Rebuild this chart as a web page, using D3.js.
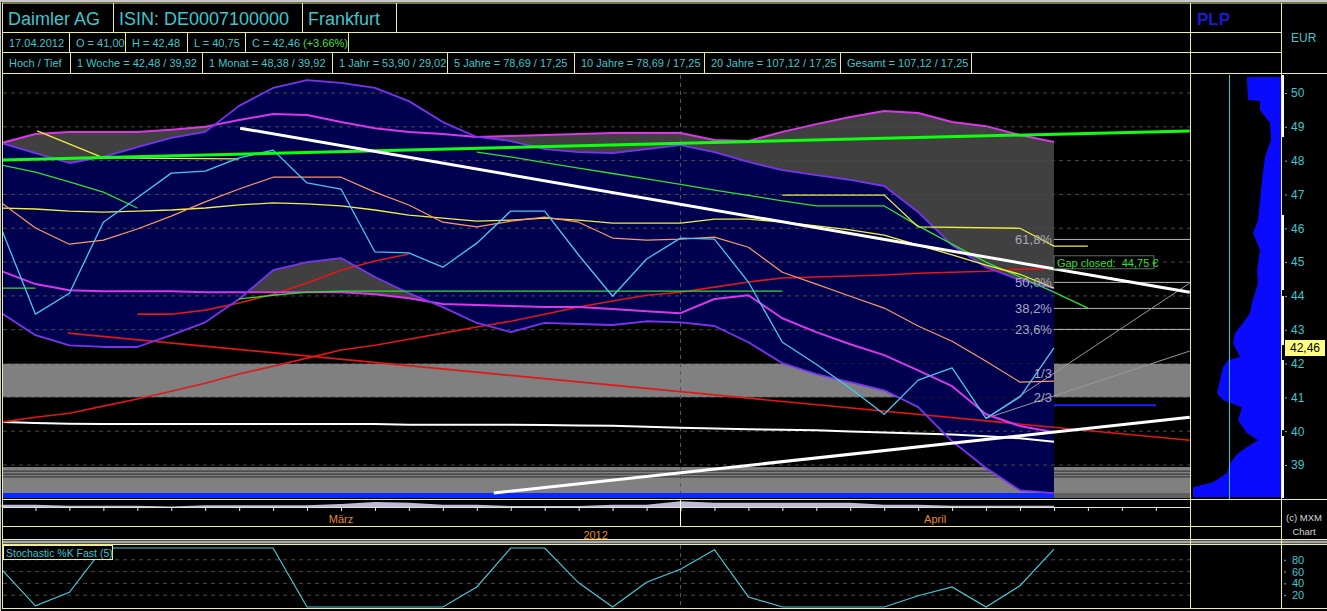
<!DOCTYPE html>
<html><head><meta charset="utf-8">
<script src="https://cdn.jsdelivr.net/npm/d3@7"></script>
<style>
html,body{margin:0;padding:0;background:#000;}
svg{display:block;}
text{font-family:"Liberation Sans",Arial,sans-serif;}
</style></head><body>
<svg id="c" width="1327" height="611"></svg>
<script>
// ---------------- DATA ----------------
const dayLabels = ["05.03","06.03","07.03","08.03","09.03","12.03","13.03","14.03","15.03","16.03","19.03","20.03","21.03","22.03","23.03","26.03","27.03","28.03","29.03","30.03","02.04","03.04","04.04","05.04","06.04","09.04","10.04","11.04","12.04","13.04","16.04","17.04"];
const monthNames = ["März","April"];
const monthStartIdx = [0, 20];
const yearLabel = "2012";

const closePx = [45.98,43.46,44.08,46.18,46.90,47.63,47.69,48.08,48.31,47.34,47.16,45.30,45.27,44.85,45.56,46.51,46.51,45.21,43.99,45.09,45.71,45.68,44.41,42.63,41.98,41.27,40.50,41.51,41.87,40.38,41.01,42.46];
const bbUpper = [48.52,48.22,47.93,48.11,48.40,48.67,48.85,49.62,50.15,50.38,50.30,50.15,49.76,49.14,48.70,48.58,48.34,48.25,48.22,48.34,48.46,48.25,47.96,47.72,47.57,47.43,47.25,46.48,45.50,44.85,44.47,44.23];
const bbLower = [43.49,42.84,42.54,42.49,42.49,42.84,43.22,43.91,44.76,45.00,45.12,44.56,44.08,43.67,43.20,42.93,43.20,43.17,43.14,43.25,43.22,43.11,42.63,42.01,41.69,41.45,41.21,40.71,39.70,38.91,38.25,38.17];
const envUpper = [48.52,48.79,48.85,48.85,48.85,48.91,49.00,49.20,49.38,49.35,49.14,48.96,48.85,48.79,48.70,48.73,48.76,48.79,48.82,48.82,48.82,48.61,48.58,48.85,49.08,49.29,49.47,49.41,49.14,49.02,48.76,48.55];
const envLower = [44.73,44.35,44.17,44.14,44.14,44.14,44.11,44.11,44.11,44.11,44.11,44.05,43.93,43.76,43.73,43.70,43.67,43.67,43.61,43.55,43.49,43.91,44.02,43.34,42.93,42.57,42.25,41.80,41.33,40.50,40.15,39.97];
const maOrange = [46.75,46.01,45.53,45.65,45.98,46.36,46.78,47.16,47.51,47.51,47.51,47.07,46.69,46.18,46.04,46.21,46.33,46.18,45.71,45.65,45.68,45.74,45.44,44.70,44.35,43.99,43.64,43.11,42.66,42.07,41.45,41.48];
const maYellow = [46.60,46.57,46.51,46.48,46.51,46.54,46.60,46.69,46.75,46.72,46.66,46.54,46.39,46.30,46.21,46.24,46.30,46.24,46.15,46.15,46.15,46.27,46.27,46.18,46.07,45.95,45.80,45.50,45.21,44.91,44.64,44.23];
const maRed = [40.27,40.41,40.53,40.74,40.95,41.18,41.42,41.69,41.92,42.16,42.40,42.54,42.72,42.90,43.08,43.25,43.46,43.67,43.85,44.02,44.11,44.26,44.41,44.53,44.56,44.59,44.62,44.67,44.70,44.73,44.79,44.82];
const maWhite = [40.27,40.24,40.22,40.21,40.21,40.21,40.21,40.21,40.21,40.21,40.21,40.21,40.19,40.19,40.19,40.19,40.18,40.17,40.16,40.13,40.10,40.08,40.06,40.04,40.03,39.99,39.96,39.93,39.90,39.85,39.79,39.69];
const redShortStart = 4;
const redShort = [43.46,43.46,43.58,43.79,44.05,44.38,44.76,45.03,45.24];
const greenAStart = 0;
const greenA = [47.87,47.66,47.37,47.07,46.60];
const greenBStart = 14;
const greenB = [48.25,48.11,47.94,47.78,47.62,47.46,47.30,47.13,46.97,46.81,46.66,46.66,46.66,46.07,45.53,45.00,44.56,44.11,43.64];
const greenFlatA = [[0,44.23],[1,44.23]];
const greenFlatB = [[7,43.91],[8,44.02],[9,44.11],[10,44.14],[23,44.14]];
const yellowTL = [[1.05,48.88],[3,48.08],[7,48.05]];
const yellowStep = [[23,46.98],[26,46.98],[27,46.04],[30,46.00],[31,45.47],[32,45.47]];
const stochK = [64,2,25,100,100,100,100,100,100,0,0,0,0,0,34,100,100,41,0,42,64,97,17,0,0,0,0,19,34,0,36,98];
const volume = [2.3,2.3,1.3,1.3,1.3,0.5,1.7,1.7,1.7,1.7,3,5,4.3,2.3,2.3,1,1,1,2.3,2.3,5.7,4.3,4.3,4.3,4.3,4.3,2.3,2.3,1.3,1.3,1.3,1.3];

// trend lines [i1, price1, i2, price2]
const trendGreen = [0,48.02,35,48.88];
const trendWhiteUp = [7.03,48.96,35,44.11];
const trendWhiteLow = [14.5,38.17,35,40.41];
const trendRed = [1.96,42.90,35,39.73];
const fanLines = [[29,40.38,35,44.38],[29,40.38,35,42.37]];
const lowLine = [31,40.77,34,40.77];

const fibLevels = [45.67,44.40,43.63,43.01];
const fibLabels = ["61,8%","50,0%","38,2%","23,6%"];
const thirdLevels = [41.72,41.01];
const thirdLabels = ["1/3","2/3"];
const zoneBands = [[41,42],[38.17,38.94]];
const zoneLines = [38.82,38.73,38.65];
const gapLevel = 44.98;
const gapText = "Gap closed:  44,75 €";

const priceTicks = [39,40,41,42,43,44,45,46,47,48,49,50];
const stochTicks = [20,40,60,80];
const lastPrice = 42.46;

const plpPrice = [50.47,50.38,49.79,49.76,49.50,49.11,48.61,48.11,47.43,46.83,46.24,45.86,45.36,44.76,44.38,43.79,43.49,43.08,42.90,42.60,42.19,42.10,41.89,41.51,41.12,40.92,40.71,40.33,39.94,39.73,39.53,39.35,39.05,38.76,38.49,38.34,38.05];
const plpVol = [33,33,32,20,20,10,9,15,18,20,22,27,20,23,22,28,30,40,45,47,40,52,57,60,63,57,38,42,33,22,33,42,50,53,67,87,87];

const headRow1 = [["Daimler AG",2,113],["ISIN: DE0007100000",113,302],["Frankfurt",302,396]];
const headRow2 = [["17.04.2012",2,69],["O = 41,00",69,125],["H = 42,48",125,187],["L = 40,75",187,245],["C = 42,46",245,348]];
const changeText = "(+3.66%)";
const headRow3 = [["Hoch / Tief",2,70],["1 Woche = 42,48 / 39,92",70,202],["1 Monat = 48,38 / 39,92",202,332],["1 Jahr = 53,90 / 29,02",332,447],["5 Jahre = 78,69 / 17,25",447,574],["10 Jahre = 78,69 / 17,25",574,704],["20 Jahre = 107,12 / 17,25",704,840],["Gesamt = 107,12 / 17,25",840,971]];

// ---------------- CHART ----------------
const W=1327,H=611;
const BORDER="#eeee9a", CYAN="#3ec6cf";
const svg=d3.select("#c");
svg.append("rect").attr("width",W).attr("height",H).attr("fill","#000");
svg.append("rect").attr("width",W).attr("height",2).attr("fill","#c8c8c8");
svg.append("rect").attr("width",1).attr("height",H).attr("fill","#c8c8c8");

const x=d3.scaleLinear().domain([0,35]).range([1.5,1189.75]);
const y=d3.scaleLinear().domain([39,50]).range([465,93]);
const ys=d3.scaleLinear().domain([0,100]).range([607,548]);
const xp=d3.scaleLinear().domain([0,90]).range([1280,1190]);
const yv=d3.scaleLinear().domain([0,6]).range([507,501]);

const defs=svg.append("defs");
defs.append("clipPath").attr("id","mc").append("rect").attr("x",3).attr("y",75).attr("width",1187).attr("height",423);
defs.append("clipPath").attr("id","sc").append("rect").attr("x",3).attr("y",545).attr("width",1187).attr("height",63);
defs.append("clipPath").attr("id","pc").append("rect").attr("x",1191).attr("y",75).attr("width",90).attr("height",424);

const g=svg.append("g").attr("clip-path","url(#mc)");
const idx=d3.range(32);

// zones
g.selectAll(".zone").data(zoneBands).join("rect")
 .attr("x",3).attr("width",1187).attr("y",d=>y(d[1])).attr("height",d=>y(d[0])-y(d[1])).attr("fill","#808080");
g.selectAll(".zl").data(zoneLines).join("line")
 .attr("x1",3).attr("x2",1190).attr("y1",d=>y(d)).attr("y2",d=>y(d)).attr("stroke","#3a3a3a").attr("stroke-width",1.2);

// envelope + bollinger fills
g.append("path").attr("d",d3.area().x(i=>x(i)).y0(i=>y(envLower[i])).y1(i=>y(envUpper[i]))(idx)).attr("fill","#404040");
g.append("path").attr("d",d3.area().x(i=>x(i)).y0(i=>y(bbLower[i])).y1(i=>y(bbUpper[i]))(idx)).attr("fill","#000050");

// grid
g.selectAll(".grid").data(priceTicks).join("line")
 .attr("x1",3).attr("x2",1190).attr("y1",d=>y(d)).attr("y2",d=>y(d))
 .attr("stroke",d=>(d===41||d===42)?"#1c1c1c":"#4a4a4a").attr("stroke-dasharray","4,4");
g.append("line").attr("x1",x(20)).attr("x2",x(20)).attr("y1",75).attr("y2",493).attr("stroke","#555").attr("stroke-dasharray","4,4");

// blue bottom bar
g.append("rect").attr("x",3).attr("y",493).attr("width",x(31)-3).attr("height",6).attr("fill","#0a28ff");
g.append("rect").attr("x",x(31)).attr("y",493).attr("width",1190-x(31)).attr("height",6).attr("fill","#606060");

function series(vals,start,color,w){
  g.append("path").attr("d",d3.line()(vals.map((v,k)=>[x(start+k),y(v)])))
   .attr("fill","none").attr("stroke",color).attr("stroke-width",w).attr("stroke-linejoin","round");
}
function pairs(pts,color,w){
  g.append("path").attr("d",d3.line()(pts.map(p=>[x(p[0]),y(p[1])])))
   .attr("fill","none").attr("stroke",color).attr("stroke-width",w);
}
function tline(t,color,w){
  g.append("line").attr("x1",x(t[0])).attr("y1",y(t[1])).attr("x2",x(t[2])).attr("y2",y(t[3]))
   .attr("stroke",color).attr("stroke-width",w);
}

// fib + fans
g.selectAll(".fib").data(fibLevels).join("line")
 .attr("x1",x(31)).attr("x2",1190).attr("y1",d=>y(d)).attr("y2",d=>y(d)).attr("stroke","#b8b8b8").attr("stroke-width",1);
fanLines.forEach(f=>tline(f,"#9a9a9a",1));

series(maWhite,0,"#ffffff",2);
series(maRed,0,"#e01818",1.6);
series(redShort,redShortStart,"#e01818",1.6);
tline(trendRed,"#e01818",1.6);
series(envLower,0,"#d838e8",2);
series(envUpper,0,"#d838e8",2);
series(bbUpper,0,"#7a34ec",1.8);
series(bbLower,0,"#7a34ec",1.8);
series(greenA,greenAStart,"#30e030",1.3);
series(greenB,greenBStart,"#30e030",1.3);
pairs(greenFlatA,"#30e030",1.3);
pairs(greenFlatB,"#30e030",1.3);
series(maYellow,0,"#f0f040",1.3);
pairs(yellowTL,"#f0f040",1.3);
pairs(yellowStep,"#f0f040",1.3);
series(maOrange,0,"#ff9868",1.2);
series(closePx,0,"#48c8f0",1.3);
tline(trendGreen,"#10ff10",3);
tline(trendWhiteUp,"#ffffff",3);
tline(trendWhiteLow,"#ffffff",3);
tline(lowLine,"#2020ff",2);

// labels
g.selectAll(".fibt").data(fibLevels).join("text")
 .attr("x",x(31)-2).attr("y",d=>y(d)+5).attr("text-anchor","end").attr("font-size",13).attr("fill","#a8a8bc").text((d,i)=>fibLabels[i]);
g.selectAll(".thirdt").data(thirdLevels).join("text")
 .attr("x",x(31)-2).attr("y",d=>y(d)+5).attr("text-anchor","end").attr("font-size",13).attr("fill","#a8a8bc").text((d,i)=>thirdLabels[i]);
const gy=y(gapLevel);
g.append("rect").attr("x",x(31)).attr("y",gy-7).attr("width",100).attr("height",13).attr("fill","#000").attr("stroke","#607060");
g.append("text").attr("x",x(31)+3).attr("y",gy+4).attr("font-size",11).attr("fill","#30e030").attr("xml:space","preserve").text(gapText);

// ---- PLP panel
const pg=svg.append("g").attr("clip-path","url(#pc)");
pg.append("path").attr("d",d3.area().y(i=>y(plpPrice[i])).x0(1281).x1(i=>xp(plpVol[i]))(d3.range(plpPrice.length))).attr("fill","#0a0aff");
pg.append("line").attr("x1",1229.5).attr("x2",1229.5).attr("y1",75).attr("y2",499).attr("stroke",CYAN).attr("stroke-width",1);
// white range strip
svg.append("rect").attr("x",1281).attr("y",75).attr("width",3).attr("height",423).attr("fill","#ffffff");
[[137,215],[290,296],[345,360],[430,436]].forEach(s=>svg.append("rect").attr("x",1282).attr("y",s[0]).attr("width",2).attr("height",s[1]-s[0]).attr("fill","#000"));

// price axis
const ax=svg.append("g").attr("transform","translate(1285,0)")
 .call(d3.axisRight(y).tickValues(priceTicks).tickSize(2).tickFormat(d3.format("d")));
ax.select(".domain").remove();
ax.selectAll("line").attr("stroke",CYAN);
ax.selectAll("text").attr("fill",CYAN).attr("font-size",12).attr("x",6).attr("font-family","Liberation Sans, Arial");
svg.append("text").attr("x",1291).attr("y",42).attr("font-size",12).attr("fill",CYAN).text("EUR");
const ly=y(lastPrice);
svg.append("rect").attr("x",1285).attr("y",ly-8).attr("width",40).attr("height",16).attr("fill","#ffff80");
svg.append("text").attr("x",1305).attr("y",ly+4.5).attr("text-anchor","middle").attr("font-size",12).attr("fill","#000").text(d3.format(".2f")(lastPrice).replace(".",","));

// ---- X axis strip
svg.append("path").attr("d",d3.area().x(i=>x(i)).y0(507).y1(i=>yv(volume[i]))(idx)).attr("fill","#bcbcd4");
svg.append("line").attr("x1",3).attr("x2",1190).attr("y1",507.5).attr("y2",507.5).attr("stroke","#e0e0e0");
const xa=svg.append("g").attr("transform","translate(0,507)")
 .call(d3.axisBottom(x).tickValues(d3.range(1,35)).tickSize(4).tickFormat(""));
xa.select(".domain").remove();
xa.selectAll("line").attr("stroke","#e8e8e8");
svg.append("line").attr("x1",x(20)).attr("x2",x(20)).attr("y1",500).attr("y2",526).attr("stroke","#ffffc8");
monthNames.forEach((m,k)=>{
  const a=x(monthStartIdx[k]), b=k+1<monthNames.length?x(monthStartIdx[k+1]):x(35);
  svg.append("text").attr("x",(a+b)/2).attr("y",523).attr("text-anchor","middle").attr("font-size",11).attr("fill","#e88a2a").text(m);
});
svg.append("text").attr("x",(x(0)+x(35))/2).attr("y",539).attr("text-anchor","middle").attr("font-size",11).attr("fill","#e88a2a").text(yearLabel);
svg.append("text").attr("x",1304).attr("y",521).attr("text-anchor","middle").attr("font-size",9.5).attr("fill","#d8d8d8").text("(c) MXM");
svg.append("text").attr("x",1304).attr("y",535).attr("text-anchor","middle").attr("font-size",9.5).attr("fill","#d8d8d8").text("Chart");

// ---- Stochastic panel
const sg=svg.append("g").attr("clip-path","url(#sc)");
sg.selectAll(".sgrid").data(stochTicks).join("line").attr("x1",3).attr("x2",1190).attr("y1",d=>ys(d)).attr("y2",d=>ys(d))
 .attr("stroke","#4a4a4a").attr("stroke-dasharray","4,4");
sg.append("line").attr("x1",x(20)).attr("x2",x(20)).attr("y1",545).attr("y2",608).attr("stroke","#555").attr("stroke-dasharray","4,4");
sg.append("path").attr("d",d3.line()(stochK.map((v,i)=>[x(i),ys(v)]))).attr("fill","none").attr("stroke","#48c8d8").attr("stroke-width",1.2);
svg.append("rect").attr("x",3.5).attr("y",545.5).attr("width",109).attr("height",14).attr("fill","#000").attr("stroke",BORDER);
svg.append("text").attr("x",6).attr("y",556.5).attr("font-size",10.5).attr("fill",CYAN).text("Stochastic %K Fast (5)");
const sa=svg.append("g").attr("transform","translate(1284,0)")
 .call(d3.axisRight(ys).tickValues(stochTicks).tickSize(2));
sa.select(".domain").remove();
sa.selectAll("line").attr("stroke",CYAN);
sa.selectAll("text").attr("fill",CYAN).attr("font-size",11).attr("x",8).attr("font-family","Liberation Sans, Arial");

// ---- header
const hdr=svg.append("g");
headRow1.forEach(d=>hdr.append("text").attr("x",d[1]+6).attr("y",25).attr("font-size",18).attr("fill",CYAN).text(d[0]));
headRow2.forEach(d=>hdr.append("text").attr("x",d[1]+7).attr("y",46.5).attr("font-size",11).attr("fill",CYAN).text(d[0]));
hdr.append("text").attr("x",303).attr("y",46.5).attr("font-size",11).attr("fill","#40e040").text(changeText);
headRow3.forEach(d=>hdr.append("text").attr("x",d[1]+7).attr("y",67).attr("font-size",11).attr("fill",CYAN).text(d[0]));
hdr.append("text").attr("x",1197).attr("y",25).attr("font-size",17).attr("font-weight","bold").attr("fill","#1a1ad0").text("PLP");

// ---- frame lines
const hL=[[3,2,1327],[32.5,2,1282],[52.5,2,1282],[73.5,2,1327],[499.5,2,1327],[526.5,2,1282],[539.5,2,1327],[544.5,2,1327],[608.5,2,1327]];
hL.forEach(l=>svg.append("line").attr("x1",l[1]).attr("x2",l[2]).attr("y1",l[0]).attr("y2",l[0]).attr("stroke",BORDER));
svg.append("rect").attr("x",2).attr("y",540.5).attr("width",1325).attr("height",3).attr("fill","#a8a8a8");
const vL=[[2.5,3,609],[1190.5,3,609],[1281.5,3,609],
 [113.5,3,32],[302.5,3,32],[396.5,3,32],
 [69.5,32,52],[125.5,32,52],[187.5,32,52],[245.5,32,52],[348.5,32,52],
 [70.5,52,73],[202.5,52,73],[332.5,52,73],[447.5,52,73],[574.5,52,73],[704.5,52,73],[840.5,52,73],[971.5,52,73]];
vL.forEach(l=>svg.append("line").attr("x1",l[0]).attr("x2",l[0]).attr("y1",l[1]).attr("y2",l[2]).attr("stroke",BORDER));
</script>
</body></html>
